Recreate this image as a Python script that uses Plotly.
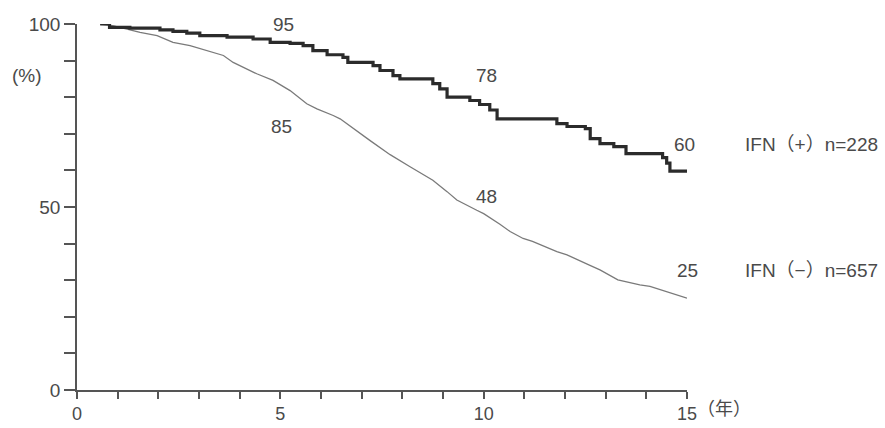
import plotly.graph_objects as go

# IFN(+) n=228 : Kaplan-Meier step curve (years, %)
ifn_pos_t = [0.57, 0.8, 1.3, 2.04, 2.36, 2.7, 3.02, 3.69, 4.33, 4.75, 5.24, 5.56, 5.8, 6.15,
             6.54, 6.66, 7.28, 7.45, 7.77, 7.94, 8.75, 8.92, 9.1, 9.66, 9.9, 10.15, 10.33,
             11.8, 12.05, 12.5, 12.62, 12.86, 13.2, 13.5, 14.4, 14.5, 14.58, 15.0]
ifn_pos_s = [100, 99.1, 98.9, 98.4, 98.0, 97.5, 96.8, 96.4, 95.9, 95.0, 94.7, 94.1, 92.7, 91.6,
             90.9, 89.5, 88.6, 87.3, 85.9, 85.0, 83.7, 82.3, 80.0, 79.1, 78.0, 76.5, 74.1,
             72.8, 72.0, 71.4, 68.7, 67.3, 66.5, 64.6, 63.5, 62.0, 59.8, 59.8]

# IFN(-) n=657
ifn_neg_t = [0.57, 0.9, 1.23, 1.55, 1.97, 2.36, 2.78, 3.2, 3.6, 3.84, 4.42, 4.82, 5.24, 5.65,
             5.9, 6.3, 6.47, 7.2, 7.7, 8.19, 8.75, 9.1, 9.34, 9.83, 10.0, 10.4, 10.65, 10.97,
             11.2, 11.8, 12.05, 12.6, 12.86, 13.3, 13.84, 14.09, 14.5, 15.0]
ifn_neg_s = [100, 99.5, 98.6, 97.7, 96.8, 95.0, 94.1, 92.7, 91.4, 89.5, 86.4, 84.6, 81.8, 78.2,
             76.8, 75.0, 74.1, 68.2, 64.3, 61.0, 57.3, 54.2, 51.9, 49.1, 48.2, 45.3, 43.3, 41.4,
             40.6, 37.8, 36.9, 34.1, 32.8, 30.1, 28.7, 28.3, 26.9, 25.1]

# value labels on the curves
label_t = [5.07, 10.08, 14.95, 5.04, 10.08, 15.0]
label_s = [100, 86, 67, 71.9, 52.9, 32.7]
label_txt = ["95", "78", "60", "85", "48", "25"]

group_names = ["IFN（+）n=228", "IFN（−）n=657"]
group_y = [67, 32.7]

x_tickvals = [0, 5, 10, 15]
y_tickvals = [0, 50, 100]

FONT = "Liberation Sans, Arial, Noto Sans CJK JP, sans-serif"
TXT = "#4a4a4a"
FS = 19

fig = go.Figure()
fig.add_trace(go.Scatter(x=ifn_neg_t, y=ifn_neg_s, mode="lines",
                         line=dict(color="#7a7a7a", width=1.3, shape="linear"),
                         cliponaxis=False, showlegend=False))
fig.add_trace(go.Scatter(x=ifn_pos_t, y=ifn_pos_s, mode="lines",
                         line=dict(color="#2b2b2b", width=3.2, shape="hv"),
                         cliponaxis=False, showlegend=False))

for t, s, txt in zip(label_t, label_s, label_txt):
    fig.add_annotation(x=t, y=s, text=txt, showarrow=False, xref="x", yref="y",
                       font=dict(size=FS, color=TXT, family=FONT))

for name, yv in zip(group_names, group_y):
    fig.add_annotation(x=1.0, xref="paper", xshift=56, xanchor="left", y=yv, yref="y",
                       text=name, showarrow=False,
                       font=dict(size=FS, color=TXT, family=FONT))

fig.add_annotation(x=0.0, xref="paper", xshift=-50, xanchor="center", y=86, yref="y",
                   text="(%)", showarrow=False, font=dict(size=FS, color=TXT, family=FONT))
fig.add_annotation(x=1.0, xref="paper", xshift=8, xanchor="left", y=0, yref="y", yshift=-19,
                   text="（年）", showarrow=False, font=dict(size=18, color=TXT, family=FONT))

fig.update_xaxes(range=[0, 15], showline=True, linecolor="#555", linewidth=1.5,
                 tickmode="array", tickvals=x_tickvals, ticks="outside", ticklen=7,
                 tickcolor="#555", tickwidth=1.5, ticklabelstandoff=0, automargin=False,
                 minor=dict(dtick=1, ticks="outside", ticklen=7, tickcolor="#555", tickwidth=1.5),
                 showgrid=False, zeroline=False,
                 tickfont=dict(size=18, color=TXT, family=FONT))
fig.update_yaxes(range=[0, 100], showline=True, linecolor="#555", linewidth=1.5,
                 tickmode="array", tickvals=y_tickvals, ticks="outside", ticklen=11,
                 tickcolor="#555", tickwidth=1.5, automargin=False,
                 minor=dict(dtick=10, ticks="outside", ticklen=11, tickcolor="#555", tickwidth=1.5),
                 showgrid=False, zeroline=False,
                 tickfont=dict(size=FS, color=TXT, family=FONT))

fig.update_layout(width=885, height=428, margin=dict(l=77, r=198, t=24, b=38),
                  paper_bgcolor="white", plot_bgcolor="white")

fig.write_html("out.html")
